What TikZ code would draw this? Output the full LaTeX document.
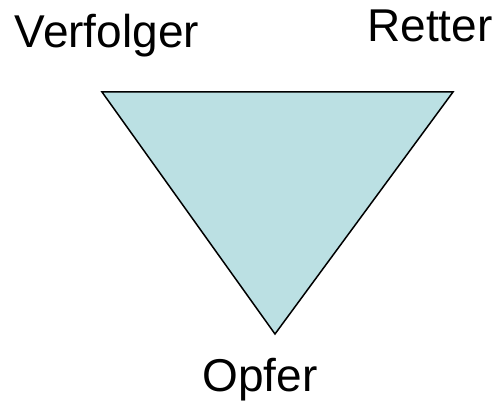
\documentclass[tikz,border=0pt]{standalone}
\usepackage{fontspec}
\setmainfont{Liberation Sans}
\usetikzlibrary{positioning}

\definecolor{dramafill}{RGB}{187,224,227}

\begin{document}
\begin{tikzpicture}[
  x=1pt, y=-1pt,
  role/.style = {font=\fontsize{46}{50}\selectfont, anchor=base, inner sep=0pt},
  tri/.style  = {draw=black, fill=dramafill, line width=1.5pt, line join=miter},
]
\useasboundingbox (0,0) rectangle (499,403);

% ---- triangle corners -------------------------------------------------------
\coordinate (tl) at (102,92);
\coordinate (tr) at (453,92);
\coordinate (bot) at (275,334);

\draw[tri] (tl) -- (tr) -- (bot) -- cycle;

% ---- role labels ------------------------------------------------------------
\node[role] (verfolger) at (107,48) {Verfolger};
\node[role] (retter) at (430,42) {Retter};
\node[role] (opfer) at (260,392) {Opfer};

\end{tikzpicture}
\end{document}
